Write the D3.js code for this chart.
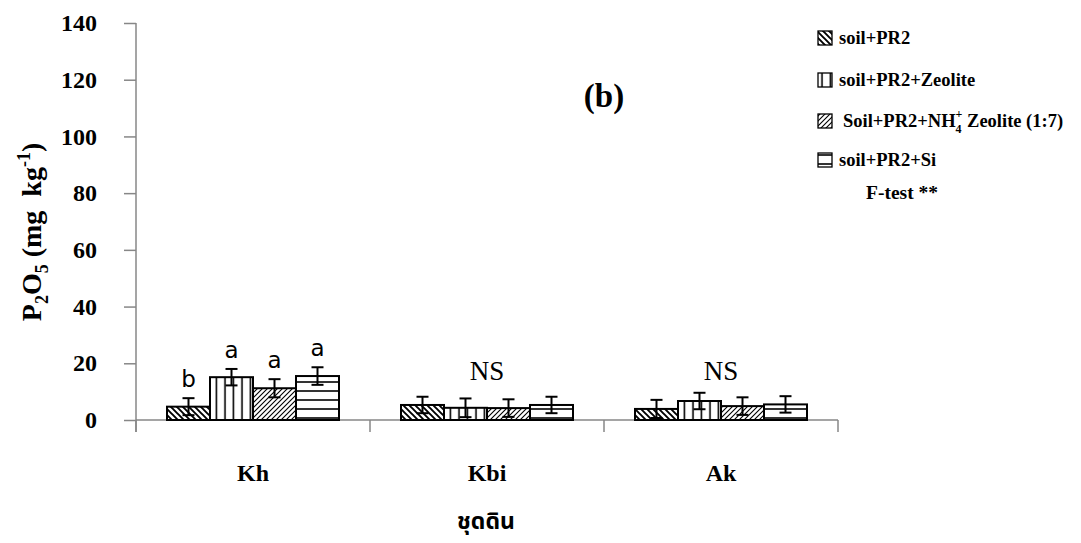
<!DOCTYPE html>
<html>
<head>
<meta charset="utf-8">
<script src="https://cdn.jsdelivr.net/npm/d3@7"></script>
<style>
  body { margin: 0; background: #fff; }
  svg { display: block; }
  .serif { font-family: "Liberation Serif", "Times New Roman", serif; }
</style>
</head>
<body>
<svg id="chart" width="1081" height="543"></svg>
<script>
const categories = ['Kh', 'Kbi', 'Ak'];
const seriesNames = ['soil+PR2', 'soil+PR2+Zeolite', 'Soil+PR2+NH4+ Zeolite (1:7)', 'soil+PR2+Si'];
const soilPR2 = [4.7, 5.3, 3.9];
const soilPR2Zeolite = [15.1, 4.3, 6.7];
const soilPR2NH4Zeolite = [11.2, 4.2, 4.9];
const soilPR2Si = [15.5, 5.3, 5.5];
const errPR2 = [3.0, 2.9, 3.2];
const errZeolite = [2.9, 3.3, 2.9];
const errNH4Zeolite = [3.2, 3.1, 3.1];
const errSi = [3.1, 2.9, 2.9];
const sigKh = ['b', 'a', 'a', 'a'];
const groupLabels = ['', 'NS', 'NS'];
const yTicks = [0, 20, 40, 60, 80, 100, 120, 140];

const seriesValues = [soilPR2, soilPR2Zeolite, soilPR2NH4Zeolite, soilPR2Si];
const seriesErrors = [errPR2, errZeolite, errNH4Zeolite, errSi];
const patterns = ['p-back', 'p-vert', 'p-fwd', 'p-horz'];

const svg = d3.select('#chart');
const axisColor = '#878787';

// fill patterns
const defs = svg.append('defs');
function pattern(id, w, h, draw) {
  const p = defs.append('pattern').attr('id', id)
    .attr('patternUnits', 'userSpaceOnUse').attr('width', w).attr('height', h);
  p.append('rect').attr('width', w).attr('height', h).attr('fill', '#fff');
  draw(p);
}
pattern('p-back', 6, 6, p => {
  p.append('path').attr('d', 'M-1,-1 L7,7 M-4,2 L4,10 M2,-4 L10,4')
    .attr('stroke', '#000').attr('stroke-width', 1.9);
});
pattern('p-fwd', 5, 5, p => {
  p.append('path').attr('d', 'M-1,6 L6,-1 M-3,3 L3,-3 M2,8 L8,2')
    .attr('stroke', '#000').attr('stroke-width', 1.1);
});
pattern('p-vert', 8.5, 10, p => {
  p.append('path').attr('d', 'M4,0 L4,10').attr('stroke', '#000').attr('stroke-width', 1.6);
});
pattern('p-horz', 10, 9, p => {
  p.append('path').attr('d', 'M0,4 L10,4').attr('stroke', '#000').attr('stroke-width', 1.6);
});

const y = d3.scaleLinear().domain([0, 140]).range([420, 23]);
const x0 = d3.scaleBand().domain(categories).range([136, 838]);
const x1 = d3.scaleBand().domain(d3.range(4)).range([31, 203]);

// y axis
const yAxis = svg.append('g')
  .attr('transform', 'translate(136,0)')
  .call(d3.axisLeft(y).tickValues(yTicks).tickSize(12).tickPadding(27));
yAxis.select('.domain').attr('stroke', axisColor).attr('stroke-width', 1.5)
  .attr('d', 'M0,' + y(140) + 'V' + (y(0) + 12));
yAxis.selectAll('.tick line').attr('stroke', axisColor).attr('stroke-width', 1.5);
yAxis.selectAll('.tick text')
  .attr('class', 'serif').attr('font-size', 24).attr('font-weight', 'bold').attr('fill', '#000');

// x axis
const xb = svg.append('g');
xb.append('line').attr('x1', 136).attr('x2', 838).attr('y1', y(0)).attr('y2', y(0))
  .attr('stroke', axisColor).attr('stroke-width', 1.5);
const bounds = categories.map(c => x0(c)).concat([x0.range()[1]]);
xb.selectAll('.xt').data(bounds).enter().append('line')
  .attr('x1', d => d).attr('x2', d => d).attr('y1', y(0)).attr('y2', y(0) + 12)
  .attr('stroke', axisColor).attr('stroke-width', 1.5);

// bars
const groups = svg.selectAll('.grp').data(categories).enter().append('g')
  .attr('transform', d => 'translate(' + x0(d) + ',0)');
groups.each(function (cat, ci) {
  const g = d3.select(this);
  const rows = d3.range(4).map(si => ({ si: si, v: seriesValues[si][ci], e: seriesErrors[si][ci] }));
  g.selectAll('rect').data(rows).enter().append('rect')
    .attr('x', d => x1(d.si)).attr('width', x1.bandwidth())
    .attr('y', d => y(d.v)).attr('height', d => y(0) - y(d.v))
    .attr('fill', d => 'url(#' + patterns[d.si] + ')')
    .attr('stroke', '#000').attr('stroke-width', 2);
  const eb = g.selectAll('.err').data(rows).enter().append('g');
  const cx = d => x1(d.si) + x1.bandwidth() / 2;
  eb.append('line').attr('x1', cx).attr('x2', cx)
    .attr('y1', d => y(d.v + d.e)).attr('y2', d => y(d.v - d.e));
  eb.append('line').attr('x1', d => cx(d) - 6).attr('x2', d => cx(d) + 6)
    .attr('y1', d => y(d.v + d.e)).attr('y2', d => y(d.v + d.e));
  eb.append('line').attr('x1', d => cx(d) - 6).attr('x2', d => cx(d) + 6)
    .attr('y1', d => y(d.v - d.e)).attr('y2', d => y(d.v - d.e));
  eb.selectAll('line').attr('stroke', '#000').attr('stroke-width', 2);

  if (ci === 0) {
    g.selectAll('.sig').data(rows).enter().append('text')
      .attr('x', cx).attr('y', d => y(d.v + d.e) - 11)
      .attr('text-anchor', 'middle')
      .attr('font-family', '"DejaVu Sans", sans-serif').attr('font-size', 23)
      .text(d => sigKh[d.si]);
  } else {
    g.append('text').attr('class', 'serif')
      .attr('x', x0.bandwidth() / 2).attr('y', 380)
      .attr('text-anchor', 'middle').attr('font-size', 27)
      .text(groupLabels[ci]);
  }
});

// category labels
svg.selectAll('.cat').data(categories).enter().append('text')
  .attr('class', 'serif')
  .attr('x', d => x0(d) + x0.bandwidth() / 2).attr('y', 481)
  .attr('text-anchor', 'middle').attr('font-size', 24).attr('font-weight', 'bold')
  .text(d => d);

// x title
svg.append('text')
  .attr('x', 486).attr('y', 529).attr('text-anchor', 'middle')
  .attr('font-family', '"Noto Sans Thai", "Noto Sans", "DejaVu Sans", sans-serif')
  .attr('font-size', 23).attr('font-weight', 'bold')
  .text('ชุดดิน');

// y title
const yt = svg.append('text').attr('class', 'serif')
  .attr('transform', 'translate(41,232) rotate(-90)')
  .attr('text-anchor', 'middle').attr('font-size', 28).attr('font-weight', 'bold');
yt.append('tspan').text('P');
yt.append('tspan').attr('font-size', 18).attr('dy', 7).text('2');
yt.append('tspan').attr('dy', -7).text('O');
yt.append('tspan').attr('font-size', 18).attr('dy', 7).text('5');
yt.append('tspan').attr('dy', -7).text(' (mg\u00a0\u00a0kg');
yt.append('tspan').attr('font-size', 18).attr('dy', -11).text('-1');
yt.append('tspan').attr('dy', 11).text(')');

// panel label
svg.append('text').attr('class', 'serif')
  .attr('x', 604).attr('y', 107).attr('text-anchor', 'middle')
  .attr('font-size', 33).attr('font-weight', 'bold').text('(b)');

// legend
const legY = [38, 80, 121, 160];
const leg = svg.selectAll('.leg').data(seriesNames).enter().append('g')
  .attr('transform', (d, i) => 'translate(818,' + legY[i] + ')');
leg.append('rect').attr('x', 0).attr('y', -7).attr('width', 14).attr('height', 14)
  .attr('fill', (d, i) => 'url(#' + patterns[i] + ')')
  .attr('stroke', '#000').attr('stroke-width', 1.3);
leg.each(function (d, i) {
  const t = d3.select(this).append('text').attr('class', 'serif')
    .attr('x', i === 2 ? 25 : 21).attr('y', 6)
    .attr('font-size', 18.5).attr('font-weight', 'bold');
  if (i === 2) {
    t.append('tspan').text('Soil+PR2+NH');
    t.append('tspan').attr('font-size', 12).attr('dy', 6).text('4');
    t.append('tspan').attr('font-size', 12).attr('dy', -15).attr('dx', -6).text('+');
    t.append('tspan').attr('dy', 9).text(' Zeolite (1:7)');
  } else {
    t.text(d);
  }
});
svg.append('text').attr('class', 'serif')
  .attr('x', 866).attr('y', 199).attr('font-size', 19.5).attr('font-weight', 'bold')
  .text('F-test **');
</script>
</body>
</html>
